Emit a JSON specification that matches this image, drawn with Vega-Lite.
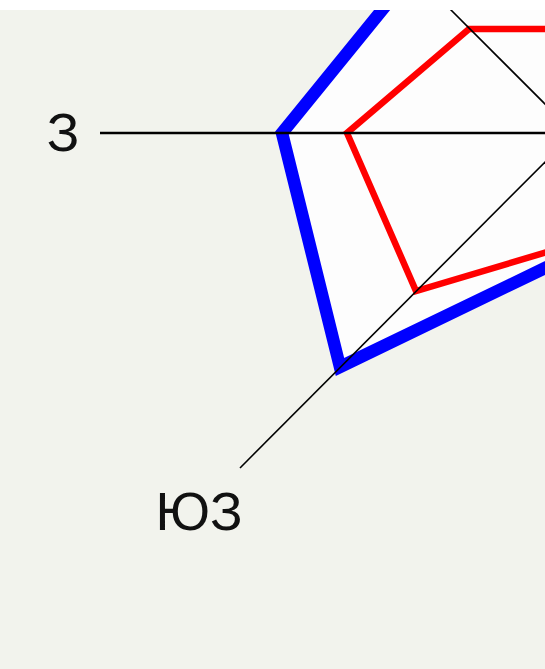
{
  "$schema": "https://vega.github.io/schema/vega-lite/v6.json",
  "width": 545,
  "height": 669,
  "autosize": {"type": "fit", "contains": "padding"},
  "padding": {"top": 10, "left": 0, "right": 0, "bottom": 0},
  "background": "#ffffff",
  "config": {"view": {"fill": "#f2f3ed", "stroke": null}},
  "datasets": {
    "blue": [
      {"dir": "С", "i": 0, "x": 0, "y": 200},
      {"dir": "СВ", "i": 1, "x": 110, "y": 110},
      {"dir": "В", "i": 2, "x": 150, "y": 0},
      {"dir": "ЮВ", "i": 3, "x": 90, "y": -90},
      {"dir": "Ю", "i": 4, "x": 0, "y": -121},
      {"dir": "ЮЗ", "i": 5, "x": -234, "y": -234},
      {"dir": "З", "i": 6, "x": -292, "y": 0},
      {"dir": "СЗ", "i": 7, "x": -161, "y": 161}
    ],
    "red": [
      {"dir": "С", "i": 0, "x": 0, "y": 104},
      {"dir": "СВ", "i": 1, "x": 75, "y": 75},
      {"dir": "В", "i": 2, "x": 100, "y": 0},
      {"dir": "ЮВ", "i": 3, "x": 70, "y": -70},
      {"dir": "Ю", "i": 4, "x": 0, "y": -111},
      {"dir": "ЮЗ", "i": 5, "x": -158, "y": -158},
      {"dir": "З", "i": 6, "x": -227, "y": 0},
      {"dir": "СЗ", "i": 7, "x": -105, "y": 104}
    ],
    "axes": [
      {"axis": "З", "i": 0, "x": -474, "y": 0},
      {"axis": "З", "i": 1, "x": 0, "y": 0},
      {"axis": "ЮЗ", "i": 0, "x": -334, "y": -335},
      {"axis": "ЮЗ", "i": 1, "x": 0, "y": 0},
      {"axis": "СЗ", "i": 0, "x": -340, "y": 340},
      {"axis": "СЗ", "i": 1, "x": 0, "y": 0}
    ],
    "labels": [
      {"text": "З", "x": -511, "y": 0},
      {"text": "ЮЗ", "x": -375, "y": -379}
    ]
  },
  "encoding": {
    "x": {"field": "x", "type": "quantitative", "scale": {"domain": [-574, -29], "nice": false, "zero": false}, "axis": null},
    "y": {"field": "y", "type": "quantitative", "scale": {"domain": [-536, 123], "nice": false, "zero": false}, "axis": null}
  },
  "layer": [
    {
      "data": {"name": "blue"},
      "mark": {"type": "line", "interpolate": "linear-closed", "fill": "#fdfdfd", "stroke": null, "clip": true},
      "encoding": {"order": {"field": "i", "type": "quantitative"}}
    },
    {
      "data": {"name": "red"},
      "mark": {"type": "line", "interpolate": "linear-closed", "stroke": "#ff0000", "strokeWidth": 6.5, "strokeJoin": "miter", "clip": true},
      "encoding": {"order": {"field": "i", "type": "quantitative"}}
    },
    {
      "data": {"name": "blue"},
      "mark": {"type": "line", "interpolate": "linear-closed", "stroke": "#0000ff", "strokeWidth": 12.5, "strokeJoin": "miter", "clip": true},
      "encoding": {"order": {"field": "i", "type": "quantitative"}}
    },
    {
      "data": {"name": "axes"},
      "transform": [{"filter": "datum.axis === 'З'"}],
      "mark": {"type": "line", "stroke": "#000000", "strokeWidth": 2.6, "clip": true},
      "encoding": {"order": {"field": "i", "type": "quantitative"}, "detail": {"field": "axis"}}
    },
    {
      "data": {"name": "axes"},
      "transform": [{"filter": "datum.axis !== 'З'"}],
      "mark": {"type": "line", "stroke": "#000000", "strokeWidth": 1.6, "clip": true},
      "encoding": {"order": {"field": "i", "type": "quantitative"}, "detail": {"field": "axis"}}
    },
    {
      "data": {"name": "labels"},
      "mark": {"type": "text", "font": "Liberation Sans", "fontSize": 54, "color": "#111111", "align": "center", "baseline": "middle", "dy": 2},
      "encoding": {"text": {"field": "text"}}
    }
  ]
}
